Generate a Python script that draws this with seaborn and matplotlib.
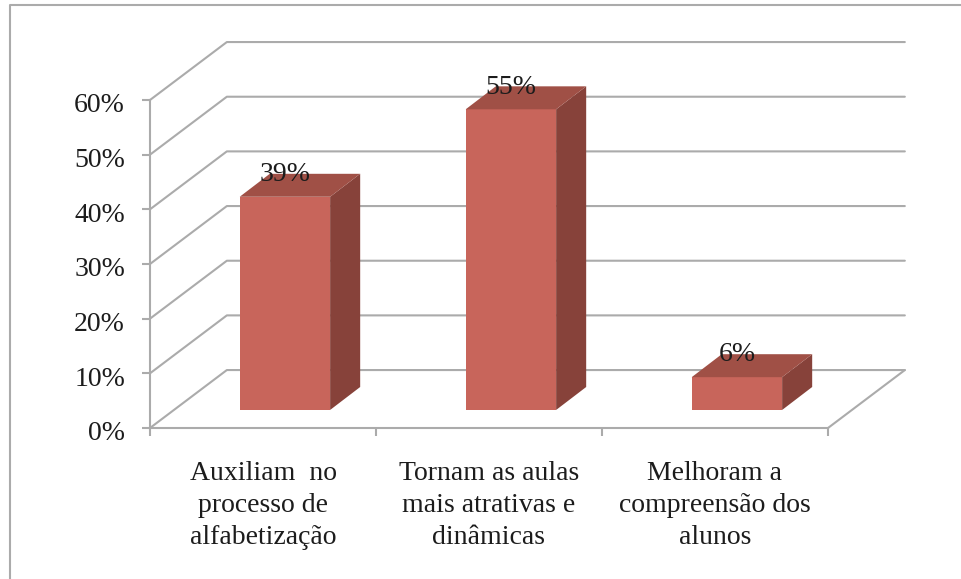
import matplotlib
matplotlib.use('Agg')
import matplotlib.pyplot as plt
import pandas as pd
import seaborn as sns
from matplotlib.lines import Line2D
from matplotlib.patches import Polygon
from matplotlib.transforms import ScaledTranslation

# Dados do gráfico
categorias = ['Auxiliam  no\nprocesso de\nalfabetização',
              'Tornam as aulas\nmais atrativas e\ndinâmicas',
              'Melhoram a\ncompreensão dos\nalunos']
valores = [39, 55, 6]
ticks_y = [0, 10, 20, 30, 40, 50, 60]

COR_FRENTE = '#C8655B'
COR_TOPO = '#A05046'
COR_LADO = '#87423A'
COR_GRADE = '#ABABAB'
COR_TEXTO = '#1C1C1C'
TAM_FONTE = 20

# Profundidade do efeito 3D, em unidades dos dados
PAREDE_X, PAREDE_Y = 0.34, 10.6
BARRA_X, BARRA_Y = 0.133, 4.2
DESLOC_X, DESLOC_Y = 0.097, 3.3

sns.set_theme(style='white')
plt.rcParams['font.family'] = ['Liberation Serif', 'DejaVu Serif']

fig = plt.figure(figsize=(9.61, 5.79), dpi=100, facecolor='white')
ax = fig.add_axes([150 / 961, 1 - 428 / 579, 678 / 961, 328 / 579])

df = pd.DataFrame({'categoria': categorias, 'valor': valores})
sns.barplot(data=df, x='categoria', y='valor', color=COR_FRENTE, saturation=1,
            width=0.4, linewidth=0, ax=ax, zorder=3)

ax.set_xlim(-0.5, 2.5)
ax.set_ylim(0, 60)

# Paredes e grade em perspectiva
for v in ticks_y:
    ax.plot([-0.5, -0.5 + PAREDE_X, 2.5 + PAREDE_X],
            [v, v + PAREDE_Y, v + PAREDE_Y],
            color=COR_GRADE, lw=1.5, clip_on=False, zorder=1)
ax.plot([2.5, 2.5 + PAREDE_X], [0, PAREDE_Y], color=COR_GRADE, lw=1.5, clip_on=False, zorder=1)

# Barras: frente deslocada, mais topo e lateral
for barra, v in zip(ax.patches, valores):
    barra.set_x(barra.get_x() + DESLOC_X)
    barra.set_y(DESLOC_Y)
    barra.set_clip_on(False)
    x0, x1 = barra.get_x(), barra.get_x() + barra.get_width()
    y0, y1 = DESLOC_Y, DESLOC_Y + v
    ax.add_patch(Polygon([(x1, y0), (x1 + BARRA_X, y0 + BARRA_Y), (x1 + BARRA_X, y1 + BARRA_Y), (x1, y1)],
                         facecolor=COR_LADO, edgecolor='none', clip_on=False, zorder=3))
    ax.add_patch(Polygon([(x0, y1), (x0 + BARRA_X, y1 + BARRA_Y), (x1 + BARRA_X, y1 + BARRA_Y), (x1, y1)],
                         facecolor=COR_TOPO, edgecolor='none', clip_on=False, zorder=3))

# Rótulos das barras
for i, v in enumerate(valores):
    ax.annotate(f'{v}%', (i, v), xytext=(16, 29), textcoords='offset points',
                ha='center', va='center', fontsize=TAM_FONTE, color=COR_TEXTO, zorder=5,
                annotation_clip=False)

# Eixos
sns.despine(ax=ax, top=True, right=True)
for lado in ['left', 'bottom']:
    ax.spines[lado].set_color(COR_GRADE)
    ax.spines[lado].set_linewidth(1.5)
ax.set_xlabel('')
ax.set_ylabel('')
ax.set_yticks(ticks_y)
ax.set_yticklabels([f'{v}%' for v in ticks_y], fontsize=TAM_FONTE, color=COR_TEXTO)
ax.tick_params(axis='y', left=True, length=6, width=1.5, color=COR_GRADE, pad=12)
for rotulo in ax.get_yticklabels():
    rotulo.set_transform(rotulo.get_transform() + ScaledTranslation(0, -3 / 100, fig.dpi_scale_trans))
ax.set_xticks([-0.5, 0.5, 1.5, 2.5])
ax.set_xticklabels([])
ax.tick_params(axis='x', which='major', bottom=True, length=6, width=1.5, color=COR_GRADE)
ax.set_xticks([0, 1, 2], minor=True)
ax.set_xticklabels(categorias, minor=True, fontsize=TAM_FONTE, color=COR_TEXTO, linespacing=1.38)
ax.tick_params(axis='x', which='minor', bottom=False, length=0, pad=23.5)

# Moldura da imagem
moldura = Line2D([10 / 961, 10 / 961, 1], [0, 1 - 5 / 579, 1 - 5 / 579],
                 transform=fig.transFigure, color=COR_GRADE, lw=1.5)
fig.add_artist(moldura)

fig.savefig('out.png', dpi=100)
plt.close(fig)
